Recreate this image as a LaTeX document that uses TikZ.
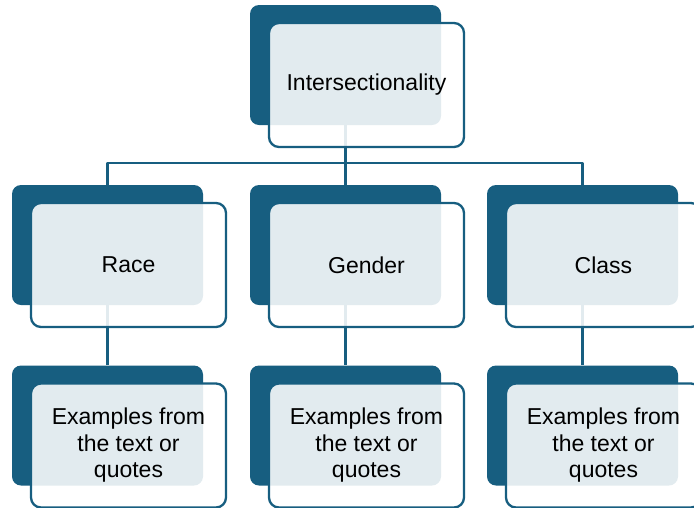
\documentclass[tikz,border=0pt]{standalone}
\usepackage{fontspec}
\setmainfont{Liberation Sans}
\definecolor{deepblue}{RGB}{23,94,128}
\begin{document}
\begin{tikzpicture}[x=1pt,y=-1pt,line join=round,line cap=round,
  back/.style={fill=deepblue,rounded corners=9pt,minimum width=191pt,minimum height=120pt,inner sep=0pt},
  front/.style={draw=deepblue,line width=2.3pt,fill=white,fill opacity=0.88,text opacity=1,text=black,rounded corners=10pt,minimum width=195pt,minimum height=124pt,inner sep=0pt,align=center,font=\fontsize{23}{26.5}\selectfont},
  link/.style={draw=deepblue,line width=2.3pt,line cap=butt}]
\def\examples{Examples from\\the text or\\quotes}
\clip (0,0) rectangle (694,507);
% back cards
\node[back] (inter-back) at (345.5,65) {};
\foreach \n/\x in {race/107.5,gender/345.5,class/582.5}{
  \node[back] (\n-back) at (\x,245) {};
  \node[back] (\n-ex-back) at (\x,425.5) {};
}
% connectors
\coordinate (bus) at (345.5,163);
\draw[link] (inter-back.south) -- (bus);
\foreach \n in {race,gender,class}{
  \draw[link] (bus) -| (\n-back.north);
  \draw[link] (\n-back.south) -- (\n-ex-back.north);
}
% front cards
\node[front] (inter) at ([shift={(21,20)}]inter-back) {Intersectionality};
\foreach \n/\t in {race/Race,gender/Gender,class/Class}{
  \node[front] (\n) at ([shift={(21,20)}]\n-back) {\t};
  \node[front] (\n-ex) at ([shift={(21,20)}]\n-ex-back) {\examples};
}
\end{tikzpicture}
\end{document}
